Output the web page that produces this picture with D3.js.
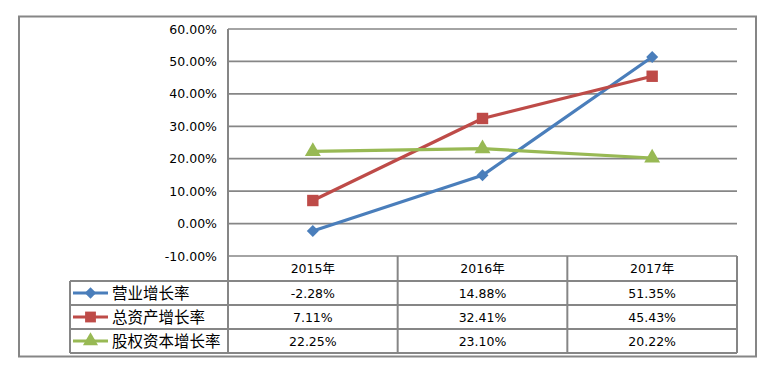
<!DOCTYPE html>
<html>
<head>
<meta charset="utf-8">
<script src="https://cdn.jsdelivr.net/npm/d3@7"></script>
<style>
  body { margin: 0; background: #fff; }
  svg text { font-family: "DejaVu Sans", "Noto Sans CJK SC", sans-serif; fill: #000; }
</style>
</head>
<body>
<svg id="chart" width="784" height="368"></svg>
<script>
// chart data
const years = ["2015年", "2016年", "2017年"];
const seriesNames = ["营业增长率", "总资产增长率", "股权资本增长率"];
const revenueGrowth = [-2.28, 14.88, 51.35];
const assetGrowth = [7.11, 32.41, 45.43];
const equityGrowth = [22.25, 23.10, 20.22];
const yTicks = [-10, 0, 10, 20, 30, 40, 50, 60];

const colors = ["#4a7ebb", "#be4b48", "#98b954"];
const markers = [d3.symbolSquare, d3.symbolSquare, d3.symbolTriangle];
const markerSizes = [72, 130, 110];
const markerRotate = [45, 0, 0];
const series = [revenueGrowth, assetGrowth, equityGrowth].map((v, i) => ({
  name: seriesNames[i], values: v, color: colors[i],
  marker: markers[i], size: markerSizes[i], rot: markerRotate[i]
}));

const svg = d3.select("#chart");
const grey = "#868686";
const locale = d3.formatLocale({decimal: ".", thousands: ",", grouping: [3], currency: ["", ""], minus: "-"});
const fmt = v => locale.format(".2f")(v) + "%";

// outer frame
svg.append("rect")
    .attr("x", 19).attr("y", 16.5)
    .attr("width", 737).attr("height", 340)
    .attr("fill", "#fff").attr("stroke", grey).attr("stroke-width", 2);

const plot = {left: 228, right: 737, top: 29, bottom: 256};
const x = d3.scaleBand().domain(years).range([plot.left, plot.right]);
const y = d3.scaleLinear().domain([-10, 60]).range([plot.bottom, plot.top]);
const tableRows = [281, 305, 329, 353]; // bottom of header + each row

  // gridlines
svg.append("g").selectAll("line")
    .data(yTicks)
  .enter().append("line")
    .attr("x1", plot.left).attr("x2", plot.right)
    .attr("y1", d => y(d)).attr("y2", d => y(d))
    .attr("stroke", grey).attr("stroke-width", 1.7);

  // y labels
svg.append("g").selectAll("text")
    .data(yTicks)
  .enter().append("text")
    .attr("x", 217).attr("y", d => y(d))
    .attr("dy", "0.36em")
    .attr("text-anchor", "end")
    .style("font-size", "12.5px")
    .text(fmt);

  // data table grid
const table = svg.append("g").attr("stroke", grey).attr("stroke-width", 2);
table.append("line")
    .attr("x1", plot.left).attr("x2", plot.left)
    .attr("y1", plot.top).attr("y2", tableRows[3]);
years.forEach(yr => {
  table.append("line")
      .attr("x1", x(yr) + x.bandwidth()).attr("x2", x(yr) + x.bandwidth())
      .attr("y1", plot.bottom).attr("y2", tableRows[3]);
});
tableRows.forEach(r => {
  table.append("line")
      .attr("x1", 70).attr("x2", plot.right)
      .attr("y1", r).attr("y2", r);
});
table.append("line")
    .attr("x1", 70).attr("x2", 70)
    .attr("y1", tableRows[0]).attr("y2", tableRows[3]);

  // header text
svg.append("g").selectAll("text")
    .data(years)
  .enter().append("text")
    .attr("x", d => x(d) + x.bandwidth() / 2)
    .attr("y", (plot.bottom + tableRows[0]) / 2)
    .attr("dy", "0.36em")
    .attr("text-anchor", "middle")
    .style("font-size", "12.5px")
    .text(d => d);

  // table rows: legend key, name, values
series.forEach((s, i) => {
  const cy = (tableRows[i] + tableRows[i + 1]) / 2;
  const row = svg.append("g");
  row.append("line")
      .attr("x1", 73).attr("x2", 108)
      .attr("y1", cy).attr("y2", cy)
      .attr("stroke", s.color).attr("stroke-width", 3);
  row.append("path")
      .attr("d", d3.symbol().type(s.marker).size(s.size * 0.9))
      .attr("transform", "translate(90.5," + cy + ") rotate(" + s.rot + ")")
      .attr("fill", s.color);
  row.append("text")
      .attr("x", 112).attr("y", cy)
      .attr("dy", "0.36em")
      .style("font-family", "'Noto Sans CJK SC', sans-serif")
      .style("font-size", "15.5px")
      .text(s.name);
  row.selectAll("text.val")
      .data(s.values)
    .enter().append("text")
      .attr("class", "val")
      .attr("x", (d, j) => x(years[j]) + x.bandwidth() / 2)
      .attr("y", cy)
      .attr("dy", "0.36em")
      .attr("text-anchor", "middle")
      .style("font-size", "12.5px")
      .text(fmt);
});

  // lines and markers
const line = d3.line()
    .x((d, j) => x(years[j]) + x.bandwidth() / 2)
    .y(d => y(d));

series.forEach(s => {
  svg.append("path")
      .datum(s.values)
      .attr("d", line)
      .attr("fill", "none")
      .attr("stroke", s.color)
      .attr("stroke-width", 3.2)
      .attr("stroke-linejoin", "round");
  svg.append("g").selectAll("path")
      .data(s.values)
    .enter().append("path")
      .attr("d", d3.symbol().type(s.marker).size(s.size))
      .attr("transform", (d, j) => "translate(" + (x(years[j]) + x.bandwidth() / 2) + "," + y(d) + ") rotate(" + s.rot + ")")
      .attr("fill", s.color);
});
</script>
</body>
</html>
